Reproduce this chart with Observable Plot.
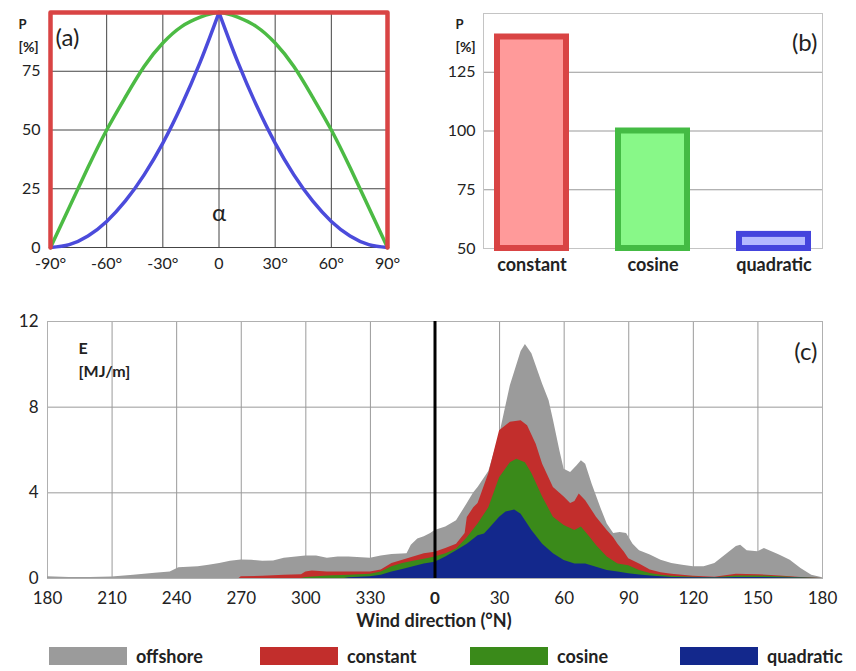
<!DOCTYPE html>
<html>
<head>
<meta charset="utf-8">
<script src="https://cdn.jsdelivr.net/npm/d3@7"></script>
<script src="https://cdn.jsdelivr.net/npm/@observablehq/plot@0.6"></script>
<style>
  html, body { margin: 0; padding: 0; background: #fff; }
  #root { position: relative; width: 856px; height: 671px; font-family: Lato, "Open Sans", sans-serif; color: #222; }
  .panel { position: absolute; }
  .xlabel { position: absolute; left: 0; width: 868px; top: 609px; line-height: 22px; text-align: center; font-weight: bold; font-size: 18px; }
  .legend { position: absolute; top: 647px; left: 0; width: 856px; height: 20px; }
  .item { position: absolute; top: 0; height: 18px; display: flex; align-items: center; font-size: 18px; font-weight: bold; }
  .sw { width: 78px; height: 18px; margin-right: 9px; }
</style>
</head>
<body>
<div id="root"></div>
<script>
// ---------- Panel (a): weighting functions P(alpha) ----------
const alphaDeg   = [-90,-80,-70,-60,-50,-40,-30,-20,-10,0,10,20,30,40,50,60,70,80,90];
const cosineP    = [0,17,34,50,64,77,87,94,98,100,98,94,87,77,64,50,34,17,0];
const quadraticP = [0,1.2,4.9,11.1,19.8,30.9,44.4,60.5,79,100,79,60.5,44.4,30.9,19.8,11.1,4.9,1.2,0];
const constantAlpha = [-90,-90,90,90];
const constantP     = [0,100,100,0];
const alphaTicks = [-90,-60,-30,0,30,60,90];
const pTicksA = [0,25,50,75];

// ---------- Panel (b): integrated P ----------
const methods = ["constant","cosine","quadratic"];
const methodP = [140,100,56];
const pTicksB = [50,75,100,125];

// ---------- Panel (c): energy by wind direction (negative = 180..360 °N) ----------
const offshore = [[-180,0.08],[-170,0.05],[-160,0.05],[-150,0.07],[-140,0.15],[-130,0.25],[-123,0.3],[-119,0.5],[-110,0.55],[-105,0.62],[-100,0.7],[-95,0.8],[-90,0.86],[-85,0.85],[-80,0.8],[-75,0.82],[-70,0.95],[-60,1.05],[-55,1.05],[-50,0.95],[-45,1.0],[-40,1.0],[-30,0.95],[-25,1.05],[-20,1.12],[-13,1.15],[-11,1.55],[-8,1.85],[-5,1.95],[-2,2.1],[0,2.24],[5,2.4],[10,2.7],[15,3.5],[18,4.0],[20,4.25],[25,5.0],[30,6.7],[35,9.0],[40,10.6],[42,10.93],[45,10.5],[50,9.07],[53,8.3],[55,7.4],[58,5.96],[60,5.1],[63,4.95],[66,5.26],[68,5.5],[70,5.34],[73,4.4],[77,3.3],[80,2.55],[83,2.1],[86,2.15],[89,2.1],[92,1.6],[95,1.3],[100,1.1],[105,0.85],[110,0.7],[115,0.62],[120,0.55],[125,0.55],[130,0.7],[135,1.1],[140,1.5],[142,1.55],[145,1.3],[150,1.25],[153,1.4],[160,1.1],[165,0.85],[170,0.47],[175,0.15],[180,0.03]];
const constant = [[-91,0],[-90,0.08],[-80,0.1],[-70,0.15],[-62,0.17],[-60,0.3],[-57,0.35],[-50,0.3],[-40,0.3],[-30,0.3],[-25,0.4],[-20,0.7],[-15,0.85],[-10,1.0],[-5,1.15],[0,1.23],[5,1.4],[10,1.6],[14,2.1],[15,2.85],[18,3.3],[20,3.5],[25,4.9],[28,6.1],[30,6.9],[35,7.3],[40,7.36],[43,7.13],[47,6.27],[50,5.34],[55,4.25],[60,3.8],[63,3.5],[65,3.6],[67,3.95],[70,3.63],[75,2.86],[80,2.24],[83,1.9],[85,1.6],[88,1.23],[90,0.92],[95,0.68],[100,0.4],[105,0.27],[110,0.2],[120,0.1],[130,0.06],[140,0.2],[150,0.18],[160,0.12],[170,0.05],[180,0]];
const cosine = [[-62,0],[-60,0.05],[-50,0.12],[-40,0.15],[-30,0.2],[-25,0.3],[-20,0.55],[-15,0.7],[-10,0.8],[-5,0.9],[0,1.0],[5,1.15],[10,1.38],[15,1.9],[20,2.55],[25,3.3],[30,4.7],[35,5.4],[38,5.57],[42,5.4],[45,4.9],[50,3.8],[55,2.86],[60,2.47],[65,2.24],[68,2.4],[72,1.93],[75,1.54],[80,1.0],[85,0.68],[90,0.6],[95,0.37],[100,0.23],[105,0.15],[110,0.1],[120,0.06],[130,0.04],[140,0.12],[150,0.12],[160,0.08],[170,0.03],[180,0]];
const quadratic = [[-42,0],[-40,0.03],[-30,0.08],[-25,0.15],[-20,0.3],[-15,0.42],[-10,0.55],[-5,0.68],[0,0.76],[5,1.0],[10,1.3],[15,1.6],[20,2.0],[23,2.08],[26,2.4],[30,2.86],[33,3.1],[37,3.2],[40,3.0],[45,2.24],[50,1.6],[55,1.15],[60,0.84],[65,0.68],[70,0.68],[75,0.53],[80,0.37],[85,0.3],[90,0.22],[95,0.16],[100,0.12],[105,0.08],[110,0.05],[120,0.03],[130,0.02],[140,0.05],[150,0.05],[160,0.03],[180,0]];
const dirTicks = [-180,-150,-120,-90,-60,-30,0,30,60,90,120,150,180];
const eTicks = [0,4,8,12];
const seriesNames = ["offshore","constant","cosine","quadratic"];
const seriesColors = ["#9b9b9b","#c22e2c","#3a8a1a","#13288c"];

const FONT = "Lato, 'Open Sans', sans-serif";
const root = document.getElementById("root");
function place(el, left, top) {
  const d = document.createElement("div");
  d.className = "panel"; d.style.left = left + "px"; d.style.top = top + "px";
  d.appendChild(el); root.appendChild(d);
}

// ---- (a)
const cosRows = alphaDeg.map((a, i) => ({a, p: cosineP[i]}));
const quadRows = [];
alphaDeg.forEach((a, i) => {
  if (a <= 0) quadRows.push({a, p: quadraticP[i], side: "L"});
  if (a >= 0) quadRows.push({a, p: quadraticP[i], side: "R"});
});
const constRows = constantAlpha.map((a, i) => ({a, p: constantP[i]}));

const plotA = Plot.plot({
  width: 420, height: 280,
  marginLeft: 50, marginRight: 33, marginTop: 12, marginBottom: 33,
  style: {fontFamily: FONT, fontSize: "16px", color: "#222", background: "transparent"},
  x: {domain: [-90, 90]},
  y: {domain: [0, 100]},
  marks: [
    Plot.gridX({ticks: alphaTicks, stroke: "#444", strokeOpacity: 1, strokeWidth: 1}),
    Plot.gridY({ticks: pTicksA, stroke: "#444", strokeOpacity: 1, strokeWidth: 1}),
    Plot.axisX({ticks: alphaTicks, tickSize: 0, tickPadding: 10, tickFormat: d => d === 0 ? "0" : d + "°", label: null, fontSize: 16}),
    Plot.axisY({ticks: pTicksA, tickSize: 0, tickPadding: 10, label: null, fontSize: 16}),
    Plot.line(cosRows, {x: "a", y: "p", stroke: "#4cbb44", strokeWidth: 3.5, curve: "natural"}),
    Plot.line(quadRows, {x: "a", y: "p", z: "side", stroke: "#4b4bdb", strokeWidth: 3.5, curve: "monotone-x"}),
    Plot.line(constRows, {x: "a", y: "p", stroke: "#d94444", strokeWidth: 4.5}),
    Plot.text(["P"], {frameAnchor: "top-left", dx: -32, dy: 7, fontWeight: "bold", fontSize: 13}),
    Plot.text(["[%]"], {frameAnchor: "top-left", dx: -32, dy: 30, fontWeight: "bold", fontSize: 14}),
    Plot.text(["(a)"], {frameAnchor: "top-left", dx: 5, dy: 16, textAnchor: "start", fontSize: 24}),
    Plot.text(["α"], {frameAnchor: "bottom", dy: -27, fontSize: 24})
  ]
});
place(plotA, 0, 0);

// ---- (b)
const barRows = methods.map((m, i) => ({m, p: methodP[i]}));
const barStroke = {constant: "#d94444", cosine: "#44bb44", quadratic: "#4444dd"};
const plotB = Plot.plot({
  width: 436, height: 280,
  marginLeft: 63, marginRight: 34, marginTop: 13, marginBottom: 32,
  style: {fontFamily: FONT, fontSize: "16px", color: "#222", background: "transparent"},
  x: {domain: methods, paddingInner: 0.43, paddingOuter: 0.11},
  y: {domain: [50, 150]},
  color: {domain: methods, range: ["#ff9a9a", "#88f888", "#b3b8ff"]},
  marks: [
    Plot.gridY({ticks: [75, 100, 125], stroke: "#999", strokeOpacity: 1}),
    Plot.frame({stroke: "#c4c4c4"}),
    Plot.axisX({tickSize: 0, tickPadding: 10, label: null, fontWeight: "bold", fontSize: 18}),
    Plot.axisY({ticks: pTicksB, tickSize: 0, tickPadding: 8, label: null, fontSize: 16}),
    Plot.barY(barRows, {x: "m", y1: 50, y2: "p", fill: "m", stroke: d => barStroke[d.m], strokeWidth: 6}),
    Plot.text(["P"], {frameAnchor: "top-left", dx: -28, dy: 6, fontWeight: "bold", fontSize: 13}),
    Plot.text(["[%]"], {frameAnchor: "top-left", dx: -28, dy: 29, fontWeight: "bold", fontSize: 14}),
    Plot.text(["(b)"], {frameAnchor: "top-right", dx: -5, dy: 20, textAnchor: "end", fontSize: 24})
  ]
});
place(plotB, 420, 0);

// ---- (c)
const toRows = arr => arr.map(([d, e]) => ({d, e}));
const plotC = Plot.plot({
  width: 856, height: 308,
  marginLeft: 47, marginRight: 34, marginTop: 21, marginBottom: 30,
  style: {fontFamily: FONT, fontSize: "16px", color: "#222", background: "transparent"},
  x: {domain: [-180, 180]},
  y: {domain: [0, 12]},
  marks: [
    Plot.gridX({ticks: dirTicks, stroke: "#9a9a9a", strokeOpacity: 1}),
    Plot.gridY({ticks: [4, 8], stroke: "#9a9a9a", strokeOpacity: 1}),
    Plot.frame({stroke: "#b0b0b0"}),
    Plot.areaY(toRows(offshore), {x: "d", y: "e", fill: seriesColors[0]}),
    Plot.areaY(toRows(constant), {x: "d", y: "e", fill: seriesColors[1]}),
    Plot.areaY(toRows(cosine), {x: "d", y: "e", fill: seriesColors[2]}),
    Plot.areaY(toRows(quadratic), {x: "d", y: "e", fill: seriesColors[3]}),
    Plot.ruleX([0], {y1: 0, y2: 12, stroke: "#000", strokeWidth: 3}),
    Plot.axisX({ticks: dirTicks.filter(d => d !== 0), tickSize: 0, tickPadding: 13,
      tickFormat: d => d < 0 ? String(360 + d) : String(d), label: null, fontSize: 17}),
    Plot.axisX({ticks: [0], tickSize: 0, tickPadding: 13, label: null, fontWeight: "bold", fontSize: 17}),
    Plot.axisY({ticks: eTicks, tickSize: 0, tickPadding: 9, label: null, fontSize: 17}),
    Plot.text(["E"], {frameAnchor: "top-left", dx: 31, dy: 21, fontWeight: "bold", fontSize: 16}),
    Plot.text(["[MJ/m]"], {frameAnchor: "top-left", dx: 31, dy: 44, fontWeight: "bold", fontSize: 16}),
    Plot.text(["(c)"], {frameAnchor: "top-right", dx: -5, dy: 21, textAnchor: "end", fontSize: 24})
  ]
});
place(plotC, 0, 300);

// axis label + legend (HTML, below the SVG)
const xl = document.createElement("div");
xl.className = "xlabel"; xl.textContent = "Wind direction (°N)";
root.appendChild(xl);
const leg = document.createElement("div");
leg.className = "legend";
const legLeft = [49, 260, 470, 680];
seriesNames.forEach((n, i) => {
  const it = document.createElement("div");
  it.className = "item"; it.style.left = legLeft[i] + "px";
  const sw = document.createElement("div");
  sw.className = "sw"; sw.style.background = seriesColors[i];
  const tx = document.createElement("span"); tx.textContent = n;
  it.appendChild(sw); it.appendChild(tx); leg.appendChild(it);
});
root.appendChild(leg);
</script>
</body>
</html>
